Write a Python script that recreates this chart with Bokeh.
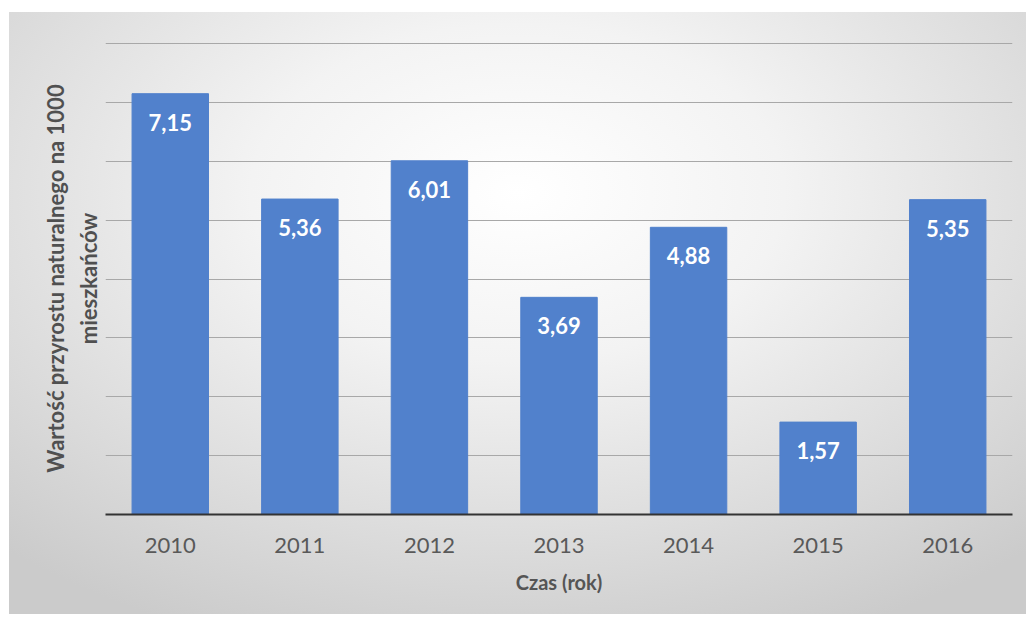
from bokeh.plotting import figure
from bokeh.models import ColumnDataSource, LabelSet, Range1d, SingleIntervalTicker, FixedTicker
from bokeh.core.properties import value
from bokeh.embed import file_html
from bokeh.resources import INLINE

years = ["2010", "2011", "2012", "2013", "2014", "2015", "2016"]
values = [7.15, 5.36, 6.01, 3.69, 4.88, 1.57, 5.35]
labels = ["7,15", "5,36", "6,01", "3,69", "4,88", "1,57", "5,35"]

FONT = "Lato"

src = ColumnDataSource(data=dict(years=years, values=values, labels=labels))

p = figure(x_range=years, y_range=Range1d(0, 8.02), width=1026, height=614,
           output_backend="svg", toolbar_location=None,
           min_border_left=105, min_border_right=14, min_border_top=42, min_border_bottom=100)

p.background_fill_color = None
p.border_fill_color = None
p.outline_line_color = None
p.styles = {
    "background": "radial-gradient(ellipse 75% 80% at 50% 30%, #ffffff 0%, #f3f3f3 35%, #cbcbcb 100%) "
                  "9px 12px / 1017px 602px no-repeat, #ffffff"
}

p.vbar(x="years", top="values", width=0.59, source=src, fill_color="#5181CC", line_color="#5181CC")

lab = LabelSet(x="years", y="values", text="labels", source=src, text_align="center",
               text_baseline="top", y_offset=-20, text_color="white",
               text_font=value(FONT), text_font_style="bold", text_font_size="22px")
p.add_layout(lab)

p.xgrid.grid_line_color = None
p.yaxis.ticker = FixedTicker(ticks=[])
p.ygrid.ticker = SingleIntervalTicker(interval=1)
p.ygrid.grid_line_color = "#a8a8a8"
p.ygrid.grid_line_width = 1

p.yaxis.axis_line_color = None
p.yaxis.major_tick_line_color = None
p.yaxis.minor_tick_line_color = None
p.yaxis.major_label_standoff = 0
p.yaxis.axis_label = "Wartość przyrostu naturalnego na 1000\nmieszkańców"
p.yaxis.axis_label_text_font = FONT
p.yaxis.axis_label_text_font_style = "bold"
p.yaxis.axis_label_text_font_size = "22px"
p.yaxis.axis_label_text_color = "#505050"
p.yaxis.axis_label_standoff = 4

p.xaxis.axis_line_color = "#333333"
p.xaxis.axis_line_width = 2
p.xaxis.major_tick_line_color = None
p.xaxis.minor_tick_line_color = None
p.xaxis.major_label_text_font = FONT
p.xaxis.major_label_text_font_size = "22px"
p.xaxis.major_label_text_color = "#595959"
p.xaxis.major_label_standoff = 17
p.xaxis.axis_label = "Czas (rok)"
p.xaxis.axis_label_text_font = FONT
p.xaxis.axis_label_text_font_style = "bold"
p.xaxis.axis_label_text_font_size = "20px"
p.xaxis.axis_label_text_color = "#555555"
p.xaxis.axis_label_standoff = 14

open("out.html", "w").write(file_html(p, INLINE))
